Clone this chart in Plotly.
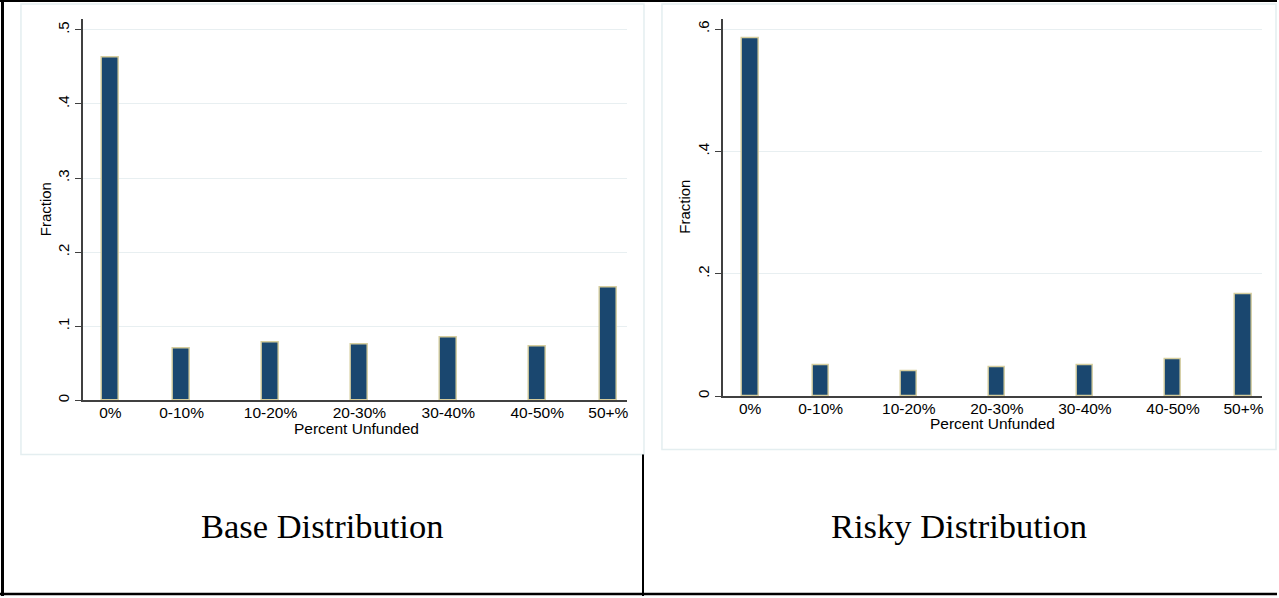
import plotly.graph_objects as go

# ---- data ----
categories = ["0%", "0-10%", "10-20%", "20-30%", "30-40%", "40-50%", "50+%"]
bin_centers = [0, 8, 18, 28, 38, 48, 56]
base_fraction = [0.463, 0.070, 0.0785, 0.076, 0.085, 0.0726, 0.152]
risky_fraction = [0.585, 0.051, 0.040, 0.047, 0.051, 0.060, 0.166]
base_yticks = [0, 0.1, 0.2, 0.3, 0.4, 0.5]
base_yticklabels = ["0", ".1", ".2", ".3", ".4", ".5"]
risky_yticks = [0, 0.2, 0.4, 0.6]
risky_yticklabels = ["0", ".2", ".4", ".6"]
captions = ["Base Distribution", "Risky Distribution"]
x_title = "Percent Unfunded"
y_title = "Fraction"

W, H = 1279, 598
def px(x):
    return x / W
def py(y):
    return 1 - y / H

BAR_FILL = "#1a476f"
BAR_LINE = "#d6ce9e"
AXIS = "#404040"
GRID = "#e8eff1"
FONT = "Liberation Sans, Arial, sans-serif"

fig = go.Figure()
fig.add_trace(go.Bar(x=bin_centers, y=base_fraction, width=1.9,
                     marker=dict(color=BAR_FILL, line=dict(color=BAR_LINE, width=1.4)),
                     xaxis="x", yaxis="y", showlegend=False))
fig.add_trace(go.Bar(x=bin_centers, y=risky_fraction, width=1.87,
                     marker=dict(color=BAR_FILL, line=dict(color=BAR_LINE, width=1.4)),
                     xaxis="x2", yaxis="y2", showlegend=False))

common_x = dict(showline=True, linecolor=AXIS, linewidth=1.5, ticks="",
                tickvals=bin_centers, ticktext=categories, showgrid=False,
                zeroline=False, tickfont=dict(family=FONT, size=15.5, color="#000"),
                ticklabelstandoff=-3,
                range=[-3.1, 58.1], fixedrange=True)
common_y = dict(showline=True, linecolor=AXIS, linewidth=1.5, ticks="outside",
                ticklen=6, tickcolor=AXIS, tickwidth=1.2, tickangle=-90,
                showgrid=True, gridcolor=GRID, gridwidth=1, zeroline=False,
                tickfont=dict(family=FONT, size=15, color="#000"))

fig.update_layout(
    width=W, height=H,
    margin=dict(l=0, r=0, t=0, b=0),
    paper_bgcolor="white", plot_bgcolor="white",
    bargap=0,
    xaxis=dict(domain=[px(83), px(628)], anchor="y", **common_x),
    yaxis=dict(domain=[py(401.7), py(19.5)], anchor="x", range=[0, 0.514],
               tickvals=base_yticks, ticktext=base_yticklabels, **common_y),
    xaxis2=dict(domain=[px(724), px(1264)], anchor="y2", **common_x),
    yaxis2=dict(domain=[py(397.5), py(19.3)], anchor="x2", range=[0, 0.616],
                tickvals=risky_yticks, ticktext=risky_yticklabels, **common_y),
)

shapes = []
# light graph-region outlines
shapes.append(dict(type="rect", xref="paper", yref="paper",
                   x0=px(21), x1=px(645), y0=py(456), y1=py(4),
                   line=dict(color="#e4eef0", width=1.5), layer="below"))
shapes.append(dict(type="rect", xref="paper", yref="paper",
                   x0=px(663), x1=px(1278), y0=py(451), y1=py(4),
                   line=dict(color="#e4eef0", width=1.5), layer="below"))
# table borders
shapes.append(dict(type="line", xref="paper", yref="paper", x0=px(0), x1=px(1279), y0=py(1), y1=py(1),
                   line=dict(color="black", width=2)))
shapes.append(dict(type="line", xref="paper", yref="paper", x0=px(0), x1=px(1279), y0=py(596), y1=py(596),
                   line=dict(color="black", width=2.5)))
shapes.append(dict(type="line", xref="paper", yref="paper", x0=px(2.5), x1=px(2.5), y0=py(0), y1=py(598),
                   line=dict(color="black", width=3)))
shapes.append(dict(type="line", xref="paper", yref="paper", x0=px(644), x1=px(644), y0=py(456), y1=py(598),
                   line=dict(color="black", width=2)))
fig.update_layout(shapes=shapes)

ann = []
ann.append(dict(text=y_title, x=px(45), y=py(210), xref="paper", yref="paper", showarrow=False,
                textangle=-90, xanchor="center", yanchor="middle",
                font=dict(family=FONT, size=15, color="#000")))
ann.append(dict(text=y_title, x=px(686), y=py(207.5), xref="paper", yref="paper", showarrow=False,
                textangle=-90, xanchor="center", yanchor="middle",
                font=dict(family=FONT, size=15, color="#000")))
ann.append(dict(text=x_title, x=px(357), y=py(430), xref="paper", yref="paper", showarrow=False,
                xanchor="center", yanchor="middle", font=dict(family=FONT, size=15.5, color="#000")))
ann.append(dict(text=x_title, x=px(994), y=py(425), xref="paper", yref="paper", showarrow=False,
                xanchor="center", yanchor="middle", font=dict(family=FONT, size=15.5, color="#000")))
ann.append(dict(text=captions[0], x=px(323), y=py(528), xref="paper", yref="paper", showarrow=False,
                xanchor="center", yanchor="middle",
                font=dict(family="Liberation Serif, Times New Roman, serif", size=34.5, color="#000")))
ann.append(dict(text=captions[1], x=px(961), y=py(528), xref="paper", yref="paper", showarrow=False,
                xanchor="center", yanchor="middle",
                font=dict(family="Liberation Serif, Times New Roman, serif", size=34.5, color="#000")))
fig.update_layout(annotations=ann)

fig.write_html("out.html", config={"displayModeBar": False},
               post_script="document.body.style.margin='0';document.body.style.overflow='hidden';")
